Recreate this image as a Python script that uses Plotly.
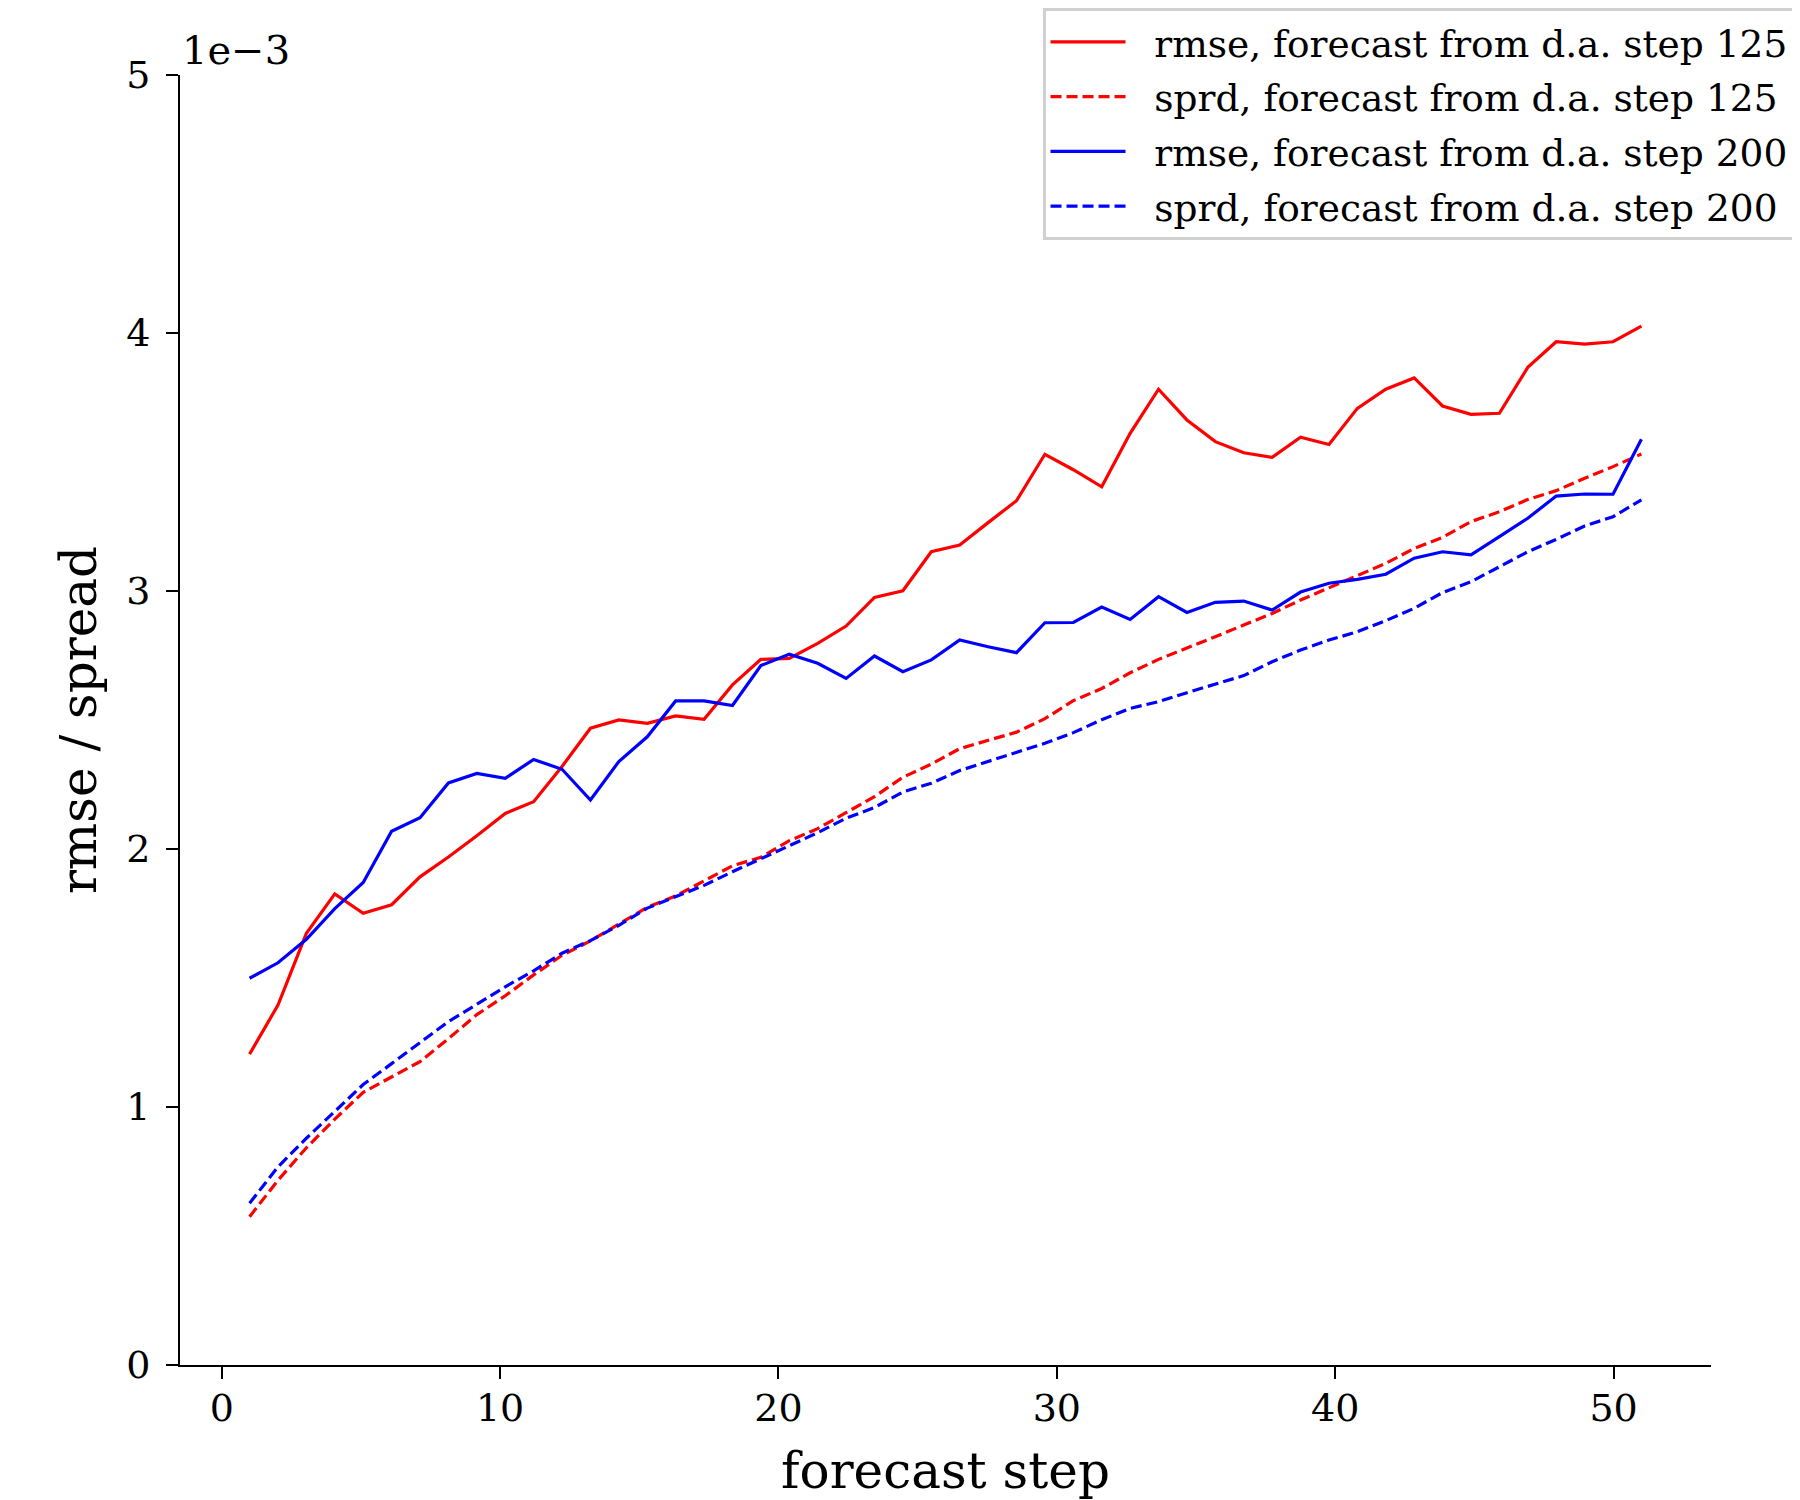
import plotly.graph_objects as go

# forecast steps (50 evenly spaced steps from 1 to 51)
forecast_step = [1.000, 2.020, 3.041, 4.061, 5.082, 6.102, 7.122, 8.143, 9.163, 10.184,
                 11.204, 12.224, 13.245, 14.265, 15.286, 16.306, 17.327, 18.347, 19.367, 20.388,
                 21.408, 22.429, 23.449, 24.469, 25.490, 26.510, 27.531, 28.551, 29.571, 30.592,
                 31.612, 32.633, 33.653, 34.673, 35.694, 36.714, 37.735, 38.755, 39.776, 40.796,
                 41.816, 42.837, 43.857, 44.878, 45.898, 46.918, 47.939, 48.959, 49.980, 51.000]

# values in units of 1e-3
rmse_125 = [1.205, 1.395, 1.673, 1.826, 1.751, 1.784, 1.892, 1.969, 2.051, 2.138,
            2.183, 2.320, 2.468, 2.500, 2.487, 2.516, 2.503, 2.636, 2.735, 2.739,
            2.797, 2.864, 2.975, 3.001, 3.152, 3.178, 3.265, 3.350, 3.530, 3.470,
            3.404, 3.611, 3.782, 3.663, 3.579, 3.536, 3.518, 3.596, 3.568, 3.708,
            3.782, 3.826, 3.717, 3.685, 3.689, 3.867, 3.966, 3.957, 3.966, 4.027]
sprd_125 = [0.575, 0.716, 0.842, 0.953, 1.057, 1.116, 1.176, 1.265, 1.358, 1.431,
            1.512, 1.588, 1.644, 1.709, 1.774, 1.818, 1.877, 1.935, 1.968, 2.032,
            2.079, 2.142, 2.203, 2.278, 2.329, 2.389, 2.422, 2.453, 2.505, 2.575,
            2.622, 2.683, 2.735, 2.778, 2.823, 2.868, 2.913, 2.965, 3.013, 3.058,
            3.107, 3.165, 3.208, 3.269, 3.307, 3.355, 3.389, 3.437, 3.482, 3.531]
rmse_200 = [1.499, 1.559, 1.650, 1.769, 1.870, 2.069, 2.121, 2.256, 2.293, 2.274,
            2.347, 2.309, 2.190, 2.339, 2.435, 2.574, 2.574, 2.556, 2.711, 2.755,
            2.720, 2.661, 2.748, 2.687, 2.733, 2.810, 2.784, 2.761, 2.877, 2.878,
            2.938, 2.890, 2.978, 2.917, 2.956, 2.961, 2.926, 2.996, 3.030, 3.045,
            3.065, 3.127, 3.152, 3.140, 3.211, 3.282, 3.368, 3.376, 3.375, 3.588]
sprd_200 = [0.627, 0.768, 0.879, 0.983, 1.087, 1.168, 1.250, 1.331, 1.398, 1.466,
            1.528, 1.596, 1.645, 1.704, 1.771, 1.816, 1.859, 1.912, 1.962, 2.010,
            2.063, 2.119, 2.161, 2.221, 2.255, 2.304, 2.339, 2.373, 2.410, 2.451,
            2.501, 2.545, 2.571, 2.606, 2.640, 2.672, 2.726, 2.771, 2.810, 2.842,
            2.885, 2.933, 2.994, 3.036, 3.094, 3.152, 3.200, 3.252, 3.288, 3.353]
scale = 1e-3

series_names = ["rmse, forecast from d.a. step 125", "sprd, forecast from d.a. step 125",
                "rmse, forecast from d.a. step 200", "sprd, forecast from d.a. step 200"]
x_ticks = [0, 10, 20, 30, 40, 50]
y_tick_labels = ["0", "1", "2", "3", "4", "5"]

FONT = "DejaVu Serif"
NB = "\u00a0\u00a0"
fig = go.Figure()
specs = [(rmse_125, "#ff0000", "solid"), (sprd_125, "#ff0000", "11px,5px"),
         (rmse_200, "#0000ff", "solid"), (sprd_200, "#0000ff", "11px,5px")]
for i, (name, (vals, col, dash)) in enumerate(zip(series_names, specs)):
    fig.add_trace(go.Scatter(x=forecast_step, y=[v * scale for v in vals], mode="lines",
                             name=NB + name, legendgroup=f"g{i}",
                             line=dict(color=col, width=3.2, dash=dash)))

# the page body has an 8px default margin: the figure is 8px smaller to compensate
fig.update_layout(
    width=1792, height=1492,
    margin=dict(l=172, r=89, t=67, b=135, autoexpand=False),
    paper_bgcolor="white", plot_bgcolor="white",
    font=dict(family=FONT, size=38, color="black"),
    showlegend=True,
    legend=dict(xref="container", yref="container", x=0.9975, y=1.0,
                xanchor="right", yanchor="top",
                bgcolor="rgba(255,255,255,0.85)", bordercolor="#d0d0d0", borderwidth=3,
                font=dict(family=FONT, size=37.5), tracegroupgap=3, itemwidth=75),
    xaxis=dict(range=[-1.5, 53.5], tickvals=x_ticks, ticks="outside", ticklen=12, tickwidth=2,
               tickcolor="black", showline=True, linecolor="black", linewidth=2,
               showgrid=False, zeroline=False, ticklabelstandoff=-4, automargin=False,
               title=dict(text="forecast step", font=dict(size=50), standoff=26)),
    yaxis=dict(range=[0, 5 * scale], tickvals=[i * scale for i in range(6)], ticktext=y_tick_labels,
               ticks="outside", ticklen=12, tickwidth=2, tickcolor="black",
               showline=True, linecolor="black", linewidth=2, showgrid=False, zeroline=False,
               ticklabelstandoff=8, automargin=False,
               title=dict(text="rmse / spread", font=dict(size=50), standoff=14)),
    annotations=[dict(text="1e\u22123", xref="paper", yref="paper", x=0, y=1,
                      xanchor="left", yanchor="bottom", showarrow=False,
                      font=dict(family=FONT, size=40))],
)

fig.write_html("out.html")
